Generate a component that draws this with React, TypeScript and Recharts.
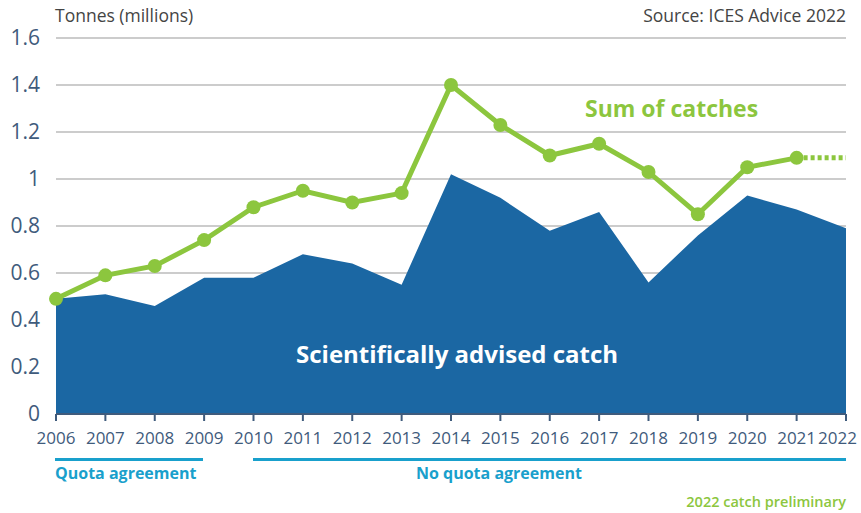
import { ComposedChart, Area, Line, XAxis, YAxis, CartesianGrid } from "recharts";

const years = ["2006", "2007", "2008", "2009", "2010", "2011", "2012", "2013", "2014", "2015", "2016", "2017", "2018", "2019", "2020", "2021", "2022"];
const advised = [0.49, 0.51, 0.46, 0.58, 0.58, 0.68, 0.64, 0.55, 1.02, 0.92, 0.78, 0.86, 0.56, 0.76, 0.93, 0.87, 0.79];
const catches = [0.49, 0.59, 0.63, 0.74, 0.88, 0.95, 0.9, 0.94, 1.4, 1.23, 1.1, 1.15, 1.03, 0.85, 1.05, 1.09, null];
const preliminary = [null, null, null, null, null, null, null, null, null, null, null, null, null, null, null, 1.09, 1.09];
const yTicks = [0, 0.2, 0.4, 0.6, 0.8, 1, 1.2, 1.4, 1.6];

const data = years.map((year, i) => ({
  year,
  advised: advised[i],
  catches: catches[i],
  preliminary: preliminary[i],
}));

const BLUE = "#1b67a3";
const GREEN = "#8cc63e";
const CYAN = "#19a0cc";
const AXIS = "#3f5b7c";
const FONT = "'Open Sans', sans-serif";

// last year label sits flush with the right edge like the original
function YearTick(props: any) {
  const { x, y, payload, index } = props;
  const last = index === years.length - 1;
  return (
    <text
      x={last ? x + 11 : x}
      y={y + 21}
      textAnchor={last ? "end" : "middle"}
      fill={AXIS}
      fontSize={17}
      fontFamily={FONT}
    >
      {payload.value}
    </text>
  );
}

export default function App() {
  return (
    <div style={{ position: "relative", width: 861, height: 513, fontFamily: FONT, background: "#fff" }}>
      <style>{"body{margin:0}"}</style>
      <ComposedChart width={861} height={513} data={data} margin={{ top: 38, right: 15, left: 0, bottom: 0 }}>
        <CartesianGrid vertical={false} stroke="#cccccc" strokeWidth={2} />
        <XAxis
          dataKey="year"
          height={99}
          stroke={AXIS}
          strokeWidth={2}
          tickSize={7}
          tick={<YearTick />}
          interval={0}
        />
        <YAxis
          width={56}
          domain={[0, 1.6]}
          ticks={yTicks}
          axisLine={false}
          tickLine={false}
          tickMargin={10}
          tickFormatter={(v: number) => String(Math.round(v * 10) / 10)}
          tick={{ fill: AXIS, fontSize: 21, fontFamily: FONT }}
        />
        <Area
          type="linear"
          dataKey="advised"
          stroke="none"
          fill={BLUE}
          fillOpacity={1}
          isAnimationActive={false}
        />
        <Line
          type="linear"
          dataKey="catches"
          stroke={GREEN}
          strokeWidth={5}
          dot={{ r: 7, fill: GREEN, stroke: GREEN, strokeWidth: 0 }}
          isAnimationActive={false}
        />
        <Line
          type="linear"
          dataKey="preliminary"
          stroke={GREEN}
          strokeWidth={5}
          strokeDasharray="4 3"
          dot={false}
          isAnimationActive={false}
        />
      </ComposedChart>
      <div style={{ position: "absolute", left: 55, top: 3, fontSize: 17.5, color: "#444" }}>Tonnes (millions)</div>
      <div style={{ position: "absolute", right: 15, top: 3, fontSize: 17.5, color: "#444" }}>Source: ICES Advice 2022</div>
      <div style={{ position: "absolute", left: 585, top: 92, fontSize: 23, fontWeight: 700, color: GREEN }}>Sum of catches</div>
      <div style={{ position: "absolute", left: 296, top: 337, fontSize: 24, fontWeight: 700, color: "#fff" }}>Scientifically advised catch</div>
      <div style={{ position: "absolute", left: 55, top: 458, width: 148, height: 3, background: CYAN }} />
      <div style={{ position: "absolute", left: 253, top: 458, width: 593, height: 3, background: CYAN }} />
      <div style={{ position: "absolute", left: 55, top: 462, fontSize: 16, fontWeight: 700, color: CYAN }}>Quota agreement</div>
      <div style={{ position: "absolute", left: 416, top: 462, fontSize: 16, fontWeight: 700, color: CYAN }}>No quota agreement</div>
      <div style={{ position: "absolute", right: 15, top: 492, fontSize: 14.5, fontWeight: 600, color: GREEN }}>2022 catch preliminary</div>
    </div>
  );
}
